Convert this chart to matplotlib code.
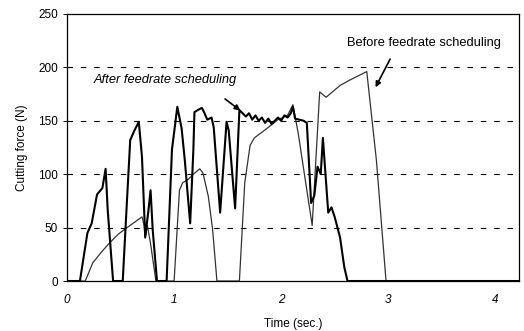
import matplotlib
matplotlib.use("Agg")
import matplotlib.pyplot as plt

# ---- data ----
t_after = [0, 0.12, 0.19, 0.23, 0.28, 0.33, 0.36, 0.38, 0.43, 0.52, 0.56, 0.59, 0.63, 0.67,
           0.70, 0.73, 0.76, 0.78, 0.80, 0.84, 0.93, 0.98, 1.03, 1.07, 1.10, 1.15, 1.18, 1.19,
           1.22, 1.26, 1.28, 1.31, 1.35, 1.37, 1.43, 1.49, 1.51, 1.57, 1.61, 1.64, 1.67, 1.70,
           1.73, 1.76, 1.79, 1.82, 1.85, 1.88, 1.91, 1.94, 1.97, 2.00, 2.03, 2.06, 2.09, 2.11,
           2.13, 2.17, 2.21, 2.24, 2.28, 2.31, 2.34, 2.37, 2.39, 2.44, 2.47, 2.50, 2.55, 2.59,
           2.62, 2.70, 4.22]
F_after = [0, 0, 45, 54, 81, 87, 105, 66, 0, 0, 76, 132, 141, 149,
           116, 41, 66, 85, 48, 0, 0, 123, 163, 143, 113, 54, 123, 158,
           160, 162, 158, 151, 153, 144, 64, 149, 141, 68, 160, 157, 154, 157,
           151, 155, 150, 153, 148, 152, 147, 150, 153, 150, 155, 153, 157, 163,
           152, 151, 150, 148, 73, 80, 107, 100, 134, 64, 69, 60, 41, 13,
           0, 0, 0]

t_before = [0, 0.17, 0.24, 0.32, 0.40, 0.48, 0.56, 0.63, 0.70, 0.72, 0.73, 0.75, 0.78, 0.83,
            1.00, 1.05, 1.08, 1.13, 1.18, 1.24, 1.27, 1.32, 1.36, 1.40, 1.61, 1.66, 1.71, 1.75,
            1.87, 1.97, 2.06, 2.11, 2.16, 2.29, 2.36, 2.42, 2.55, 2.64, 2.80, 2.89, 2.98, 4.22]
F_before = [0, 0, 17, 27, 36, 44, 50, 55, 60, 52, 40, 52, 35, 0,
            0, 85, 92, 95, 100, 105, 101, 79, 48, 0, 0, 92, 127, 134,
            143, 151, 155, 165, 138, 52, 177, 172, 183, 188, 196, 113, 0, 0]

y_ticks = [0, 50, 100, 150, 200, 250]
x_ticks = [0, 1, 2, 3, 4]
x_label = "Time (sec.)"
y_label = "Cutting force (N)"
label_after = "After feedrate scheduling"
label_before = "Before feedrate scheduling"

plt.rcParams['font.family'] = ['Liberation Sans', 'DejaVu Sans']

fig = plt.figure(figsize=(5.24, 3.31), dpi=100)
ax = fig.add_axes([0.128, 0.151, 0.862, 0.807])

ax.plot(t_before, F_before, color='#333333', lw=0.9, zorder=3)
ax.plot(t_after, F_after, color='black', lw=1.5, zorder=4)

ax.set_xlim(0, 4.22)
ax.set_ylim(0, 250)
ax.set_yticks(y_ticks)
ax.set_xticks(x_ticks)
ax.set_xticklabels([str(v) for v in x_ticks], fontstyle='italic', fontsize=8.5)
ax.tick_params(axis='y', labelsize=8.5, length=3, width=0.7, direction='out')
ax.tick_params(axis='x', length=0, pad=9)

for yv in y_ticks[1:-1]:
    ax.axhline(yv, color='black', lw=0.8, ls=(0, (5, 7)), zorder=1)

for s in ax.spines.values():
    s.set_linewidth(0.9)
    s.set_color('black')

ax.set_xlabel(x_label, fontsize=8.5, labelpad=9)
ax.set_ylabel(y_label, fontsize=8.5, labelpad=7)

ax.annotate("", xy=(1.64, 158), xytext=(1.455, 172),
            arrowprops=dict(arrowstyle='-|>', color='black', lw=1.2, mutation_scale=8))
ax.text(0.914, 188, label_after, ha='center', va='center', fontsize=9.3, fontstyle='italic')

ax.annotate("", xy=(2.87, 179), xytext=(3.03, 210),
            arrowprops=dict(arrowstyle='-|>', color='black', lw=1.2, mutation_scale=8))
ax.text(3.33, 223, label_before, ha='center', va='center', fontsize=9.3)

fig.savefig("out.png", dpi=100)
